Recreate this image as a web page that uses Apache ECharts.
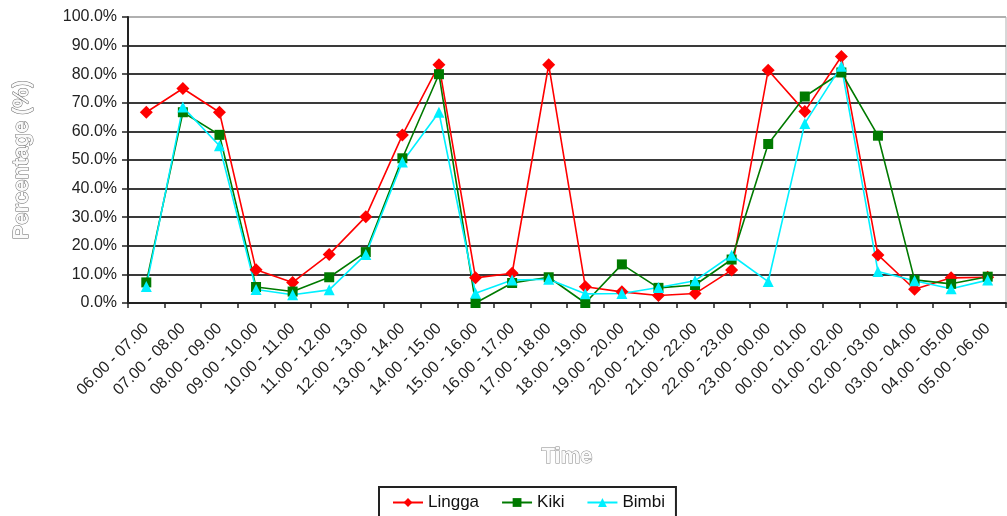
<!DOCTYPE html>
<html>
<head>
<meta charset="utf-8">
<script src="https://cdn.jsdelivr.net/npm/echarts@6/dist/echarts.min.js"></script>
<style>
html,body{margin:0;padding:0;background:#fff;}
#chart{width:1007px;height:516px;}
</style>
</head>
<body>
<div id="chart"></div>
<script>
var categories = ['06.00 - 07.00','07.00 - 08.00','08.00 - 09.00','09.00 - 10.00','10.00 - 11.00','11.00 - 12.00',
  '12.00 - 13.00','13.00 - 14.00','14.00 - 15.00','15.00 - 16.00','16.00 - 17.00','17.00 - 18.00',
  '18.00 - 19.00','19.00 - 20.00','20.00 - 21.00','21.00 - 22.00','22.00 - 23.00','23.00 - 00.00',
  '00.00 - 01.00','01.00 - 02.00','02.00 - 03.00','03.00 - 04.00','04.00 - 05.00','05.00 - 06.00'];
var lingga = [66.7, 75.0, 66.7, 11.6, 7.2, 17.0, 30.2, 58.7, 83.3, 8.8, 10.4, 83.3, 5.7, 3.9, 2.6, 3.3, 11.5, 81.4, 67.0, 86.2, 16.8, 4.8, 8.8, 9.0];
var kiki = [7.2, 66.7, 58.8, 5.6, 4.0, 9.0, 17.8, 50.6, 80.0, 0.0, 7.0, 9.0, 0.0, 13.5, 5.3, 6.3, 15.2, 55.6, 72.2, 80.6, 58.5, 8.1, 6.7, 9.2];
var bimbi = [5.8, 68.5, 55.0, 4.7, 2.9, 4.6, 17.0, 49.3, 66.7, 3.4, 8.0, 8.3, 3.2, 3.3, 5.4, 7.8, 16.7, 7.5, 62.8, 82.8, 11.0, 7.8, 5.0, 8.0];
var seriesNames = ['Lingga', 'Kiki', 'Bimbi'];
var yTicks = [0, 10, 20, 30, 40, 50, 60, 70, 80, 90, 100];

var chart = echarts.init(document.getElementById('chart'), null, {renderer: 'canvas'});
var gridColors = yTicks.map(function (v, i) { return i === yTicks.length - 1 ? '#b0b0b0' : '#3a3a3a'; });
var font = 'Liberation Sans, Arial, sans-serif';
function mk(name, data, color, symbol, size) {
  return {
    name: name, type: 'line', data: data,
    symbol: symbol, symbolSize: size, showSymbol: true,
    lineStyle: {color: color, width: 1.6},
    itemStyle: {color: color},
    animation: false
  };
}
chart.setOption({
  backgroundColor: '#fff',
  animation: false,
  grid: {left: 128, right: 1, top: 17, bottom: 213, show: true, borderColor: '#b0b0b0', borderWidth: 1, backgroundColor: '#fff'},
  legend: {
    left: 379, top: 487,
    data: seriesNames,
    itemWidth: 30, itemHeight: 11, itemGap: 22,
    padding: [7, 11, 20, 13],
    borderColor: '#222', borderWidth: 2,
    textStyle: {fontSize: 17, color: '#111', fontFamily: font}
  },
  xAxis: {
    type: 'category', data: categories, boundaryGap: true,
    name: 'Time', nameLocation: 'middle', nameGap: 143,
    nameTextStyle: {fontSize: 22, fontWeight: 'bold', color: '#fafafa', textBorderColor: '#888', textBorderWidth: 1, fontFamily: font},
    axisLine: {lineStyle: {color: '#222', width: 2}},
    axisTick: {show: true, length: 5, lineStyle: {color: '#222', width: 1.5}},
    axisLabel: {rotate: 45, fontSize: 16, color: '#222', margin: 23, fontFamily: font, interval: 0},
    splitLine: {show: false}
  },
  yAxis: {
    type: 'value', min: 0, max: 100, interval: 10,
    name: 'Percentage (%)', nameLocation: 'middle', nameGap: 95, nameRotate: 90,
    nameTextStyle: {fontSize: 22, fontWeight: 'bold', color: '#fafafa', textBorderColor: '#666', textBorderWidth: 1, fontFamily: font},
    axisLine: {show: true, lineStyle: {color: '#222', width: 2}},
    axisTick: {show: true, length: 6, lineStyle: {color: '#222', width: 1.5}},
    axisLabel: {fontSize: 16, color: '#222', margin: 11, fontFamily: font,
      formatter: function (v) { return v.toFixed(1) + '%'; }},
    splitLine: {show: true, lineStyle: {color: gridColors, width: 2}}
  },
  series: [
    mk(seriesNames[0], lingga, '#ff0000', 'diamond', 13),
    mk(seriesNames[1], kiki, '#007a00', 'rect', 10),
    mk(seriesNames[2], bimbi, '#00f0ff', 'triangle', 11)
  ]
});
</script>
</body>
</html>
